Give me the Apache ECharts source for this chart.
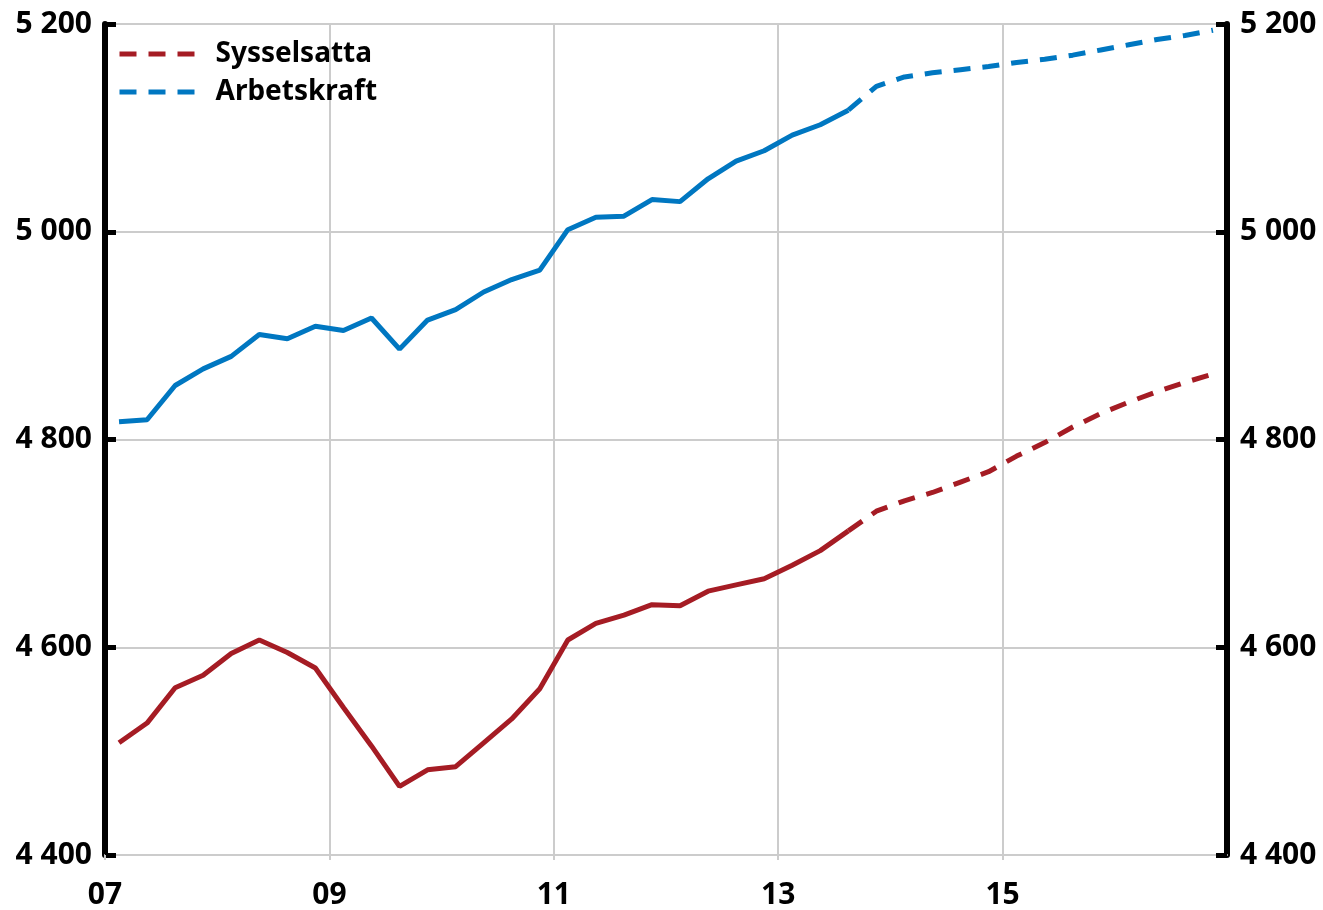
<!DOCTYPE html>
<html>
<head>
<meta charset="utf-8">
<script src="https://cdn.jsdelivr.net/npm/echarts@6/dist/echarts.min.js"></script>
<style>
  html, body { margin: 0; padding: 0; background: #fff; }
  #chart { width: 1323px; height: 910px; }
</style>
</head>
<body>
<div id="chart"></div>
<script>
// kvartal 2007K1 - 2016K4
const quarters = [
    "2007K1", "2007K2", "2007K3", "2007K4", "2008K1", "2008K2", "2008K3", "2008K4",
    "2009K1", "2009K2", "2009K3", "2009K4", "2010K1", "2010K2", "2010K3", "2010K4",
    "2011K1", "2011K2", "2011K3", "2011K4", "2012K1", "2012K2", "2012K3", "2012K4",
    "2013K1", "2013K2", "2013K3", "2013K4", "2014K1", "2014K2", "2014K3", "2014K4",
    "2015K1", "2015K2", "2015K3", "2015K4", "2016K1", "2016K2", "2016K3", "2016K4"
];
const sysselsatta = [
    4508, 4527, 4561, 4573, 4594, 4607, 4595, 4580, 4542, 4505,
    4466, 4482, 4485, 4508, 4531, 4560, 4607, 4623, 4631, 4641,
    4640, 4654, 4660, 4666, 4679, 4693, 4712, 4731, 4741, 4749,
    4759, 4769, 4784, 4797, 4812, 4825, 4836, 4846, 4855, 4863
];
const arbetskraft = [
    4817, 4819, 4852, 4868, 4880, 4901, 4897, 4909, 4905, 4917,
    4887, 4915, 4925, 4942, 4954, 4963, 5002, 5014, 5015, 5031,
    5029, 5051, 5068, 5078, 5093, 5103, 5117, 5140, 5149, 5153,
    5156, 5159, 5163, 5166, 5170, 5175, 5180, 5185, 5189, 5194
];
const sistaUtfall = "2013K3"; // heldragen t.o.m. detta kvartal, streckad (prognos) därefter
const yTicks = [4400, 4600, 4800, 5000, 5200];

const RED = "#a51c24";
const BLUE = "#0077c1";
const GRID = "#cccccc";
const FONT = "Noto Sans";
const DASH = [17, 12];

// kvartal -> decimalår, mitt i kvartalet
function qx(q) {
    return Number(q.slice(0, 4)) + (Number(q.slice(5)) - 0.5) / 4;
}
const split = quarters.indexOf(sistaUtfall);
function part(values, from, to) {
    return quarters.slice(from, to).map((q, i) => [qx(q), values[from + i]]);
}
function fmt(v) {
    return String(v).replace(/\B(?=(\d{3})+(?!\d))/g, " ");
}

let myChart = echarts.init(document.getElementById("chart"));

const yAxisBase = {
    type: "value",
    min: yTicks[0],
    max: yTicks[yTicks.length - 1],
    interval: yTicks[1] - yTicks[0],
    axisLine: { show: true, lineStyle: { color: "#000", width: 6 } },
    axisTick: { show: true, inside: true, length: 11, lineStyle: { color: "#000", width: 5 } },
    axisLabel: {
        formatter: fmt,
        color: "#000",
        fontFamily: FONT,
        fontWeight: "bold",
        fontSize: 30,
        margin: 13,
    },
};

let options = {
    animation: false,
    backgroundColor: "#fff",
    grid: { left: 105, right: 96, top: 24, bottom: 52 },
    legend: {
        orient: "vertical",
        left: 117,
        top: 39,
        padding: 0,
        itemWidth: 75,
        itemHeight: 5,
        itemGap: 8,
        textStyle: {
            color: "#000",
            fontFamily: FONT,
            fontWeight: "bold",
            fontSize: 28,
            lineHeight: 30,
            padding: [0, 0, 0, 16],
        },
        data: [
            { name: "Sysselsatta", lineStyle: { type: DASH, width: 5, color: RED } },
            { name: "Arbetskraft", lineStyle: { type: DASH, width: 5, color: BLUE } },
        ],
    },
    xAxis: {
        type: "value",
        min: 2007,
        max: 2017,
        interval: 2,
        axisLine: { show: true, lineStyle: { color: GRID, width: 2 } },
        axisTick: { show: true, length: 5, lineStyle: { color: GRID, width: 2 } },
        axisLabel: {
            formatter: (v) => String(v).slice(2),
            showMaxLabel: false,
            color: "#000",
            fontFamily: FONT,
            fontWeight: "bold",
            fontSize: 30,
            margin: 25,
        },
        splitLine: { show: true, lineStyle: { color: GRID, width: 2 } },
    },
    yAxis: [
        Object.assign({}, yAxisBase, {
            position: "left",
            splitLine: { show: true, lineStyle: { color: GRID, width: 2 } },
        }),
        Object.assign({}, yAxisBase, {
            position: "right",
            splitLine: { show: false },
        }),
    ],
    series: [
        {
            name: "Sysselsatta",
            type: "line",
            symbol: "none",
            data: part(sysselsatta, split, quarters.length),
            lineStyle: { color: RED, width: 5, type: DASH },
            itemStyle: { color: RED },
        },
        {
            name: "Arbetskraft",
            type: "line",
            symbol: "none",
            data: part(arbetskraft, split, quarters.length),
            lineStyle: { color: BLUE, width: 5, type: DASH },
            itemStyle: { color: BLUE },
        },
        {
            name: "Sysselsatta",
            type: "line",
            symbol: "none",
            data: part(sysselsatta, 0, split + 1),
            lineStyle: { color: RED, width: 5 },
            itemStyle: { color: RED },
        },
        {
            name: "Arbetskraft",
            type: "line",
            symbol: "none",
            data: part(arbetskraft, 0, split + 1),
            lineStyle: { color: BLUE, width: 5 },
            itemStyle: { color: BLUE },
        },
    ],
};
myChart.setOption(options);
</script>
</body>
</html>
